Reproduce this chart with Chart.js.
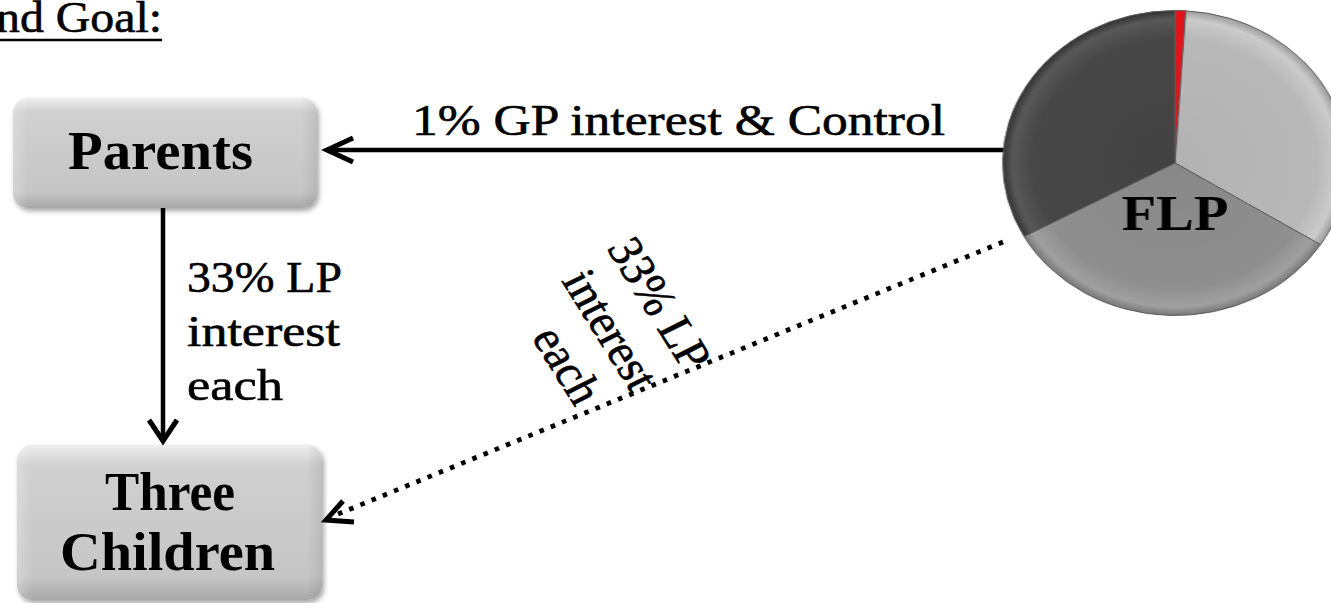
<!DOCTYPE html>
<html>
<head>
<meta charset="utf-8">
<script src="https://cdn.jsdelivr.net/npm/chart.js@4.4.1/dist/chart.umd.min.js"></script>
<style>
    html, body { margin: 0; padding: 0; background: #fff; overflow: hidden; }
    #stage { position: relative; width: 1331px; height: 603px; overflow: hidden; }
    #diagram { position: absolute; left: 0; top: 0; }
    #flpChart { position: absolute; left: 1005px; top: -7px; transform: scaleX(1.13); transform-origin: 50% 50%; }
    text { font-family: "Liberation Serif", "Times New Roman", serif; fill: #000; }
    text.reg { stroke: #000; stroke-width: 0.6; }
</style>
</head>
<body>
<div id="stage">
    <svg id="diagram" width="1331" height="603" viewBox="0 0 1331 603">
        <defs>
            <linearGradient id="boxFill" x1="0" y1="0" x2="0" y2="1">
                <stop offset="0" stop-color="#eeeeee"/>
                <stop offset="0.13" stop-color="#d0d0d0"/>
                <stop offset="0.85" stop-color="#c6c6c6"/>
                <stop offset="1" stop-color="#a8a8a8"/>
            </linearGradient>
            <linearGradient id="boxSide" x1="0" y1="0" x2="1" y2="0">
                <stop offset="0" stop-color="#fff" stop-opacity="0.25"/>
                <stop offset="0.05" stop-color="#fff" stop-opacity="0"/>
                <stop offset="0.95" stop-color="#000" stop-opacity="0"/>
                <stop offset="1" stop-color="#000" stop-opacity="0.08"/>
            </linearGradient>
            <filter id="shadow" x="-10%" y="-10%" width="120%" height="130%">
                <feDropShadow dx="2" dy="3" stdDeviation="2.5" flood-color="#000" flood-opacity="0.35"/>
            </filter>
        </defs>

        <!-- naglowek, uciety przy lewej krawedzi -->
        <text class="reg" x="162" y="32" font-size="44" text-anchor="end" textLength="166" lengthAdjust="spacingAndGlyphs">nd Goal:</text>
        <line x1="0" y1="40" x2="162" y2="40" stroke="#000" stroke-width="2.5"/>

        <!-- prostokaty -->
        <g filter="url(#shadow)">
            <rect x="13" y="98" width="304" height="110" rx="15" fill="url(#boxFill)"/>
            <rect x="17" y="445" width="305" height="155" rx="15" fill="url(#boxFill)"/>
        </g>
        <rect x="13" y="98" width="304" height="110" rx="15" fill="url(#boxSide)"/>
        <rect x="17" y="445" width="305" height="155" rx="15" fill="url(#boxSide)"/>
        <text x="160.5" y="169" font-size="54" font-weight="bold" text-anchor="middle" textLength="185" lengthAdjust="spacingAndGlyphs">Parents</text>
        <text x="170" y="510" font-size="54" font-weight="bold" text-anchor="middle" textLength="130" lengthAdjust="spacingAndGlyphs">Three</text>
        <text x="167.5" y="570" font-size="54" font-weight="bold" text-anchor="middle" textLength="215" lengthAdjust="spacingAndGlyphs">Children</text>

        <!-- FLP -> Parents -->
        <line x1="1010" y1="150" x2="328" y2="150" stroke="#000" stroke-width="4.5"/>
        <polyline points="353,138 327,150 353,162" fill="none" stroke="#000" stroke-width="5"/>
        <text class="reg" x="412" y="135" font-size="44" textLength="533" lengthAdjust="spacingAndGlyphs">1% GP interest &amp; Control</text>

        <!-- Parents -> Children -->
        <line x1="163" y1="208" x2="163" y2="438" stroke="#000" stroke-width="4.5"/>
        <polyline points="149,420 163,441 177,420" fill="none" stroke="#000" stroke-width="5"/>
        <text class="reg" x="187" y="292" font-size="44" textLength="155" lengthAdjust="spacingAndGlyphs">33% LP</text>
        <text class="reg" x="187" y="346" font-size="44" textLength="153" lengthAdjust="spacingAndGlyphs">interest</text>
        <text class="reg" x="187" y="400" font-size="44" textLength="96" lengthAdjust="spacingAndGlyphs">each</text>

        <!-- FLP -> Children (kropkowana) -->
        <line x1="1003" y1="242" x2="338" y2="514" stroke="#000" stroke-width="4.8" stroke-dasharray="4.6 7.5"/>
        <polyline points="343,501 326,520 354,522" fill="none" stroke="#000" stroke-width="5"/>
        <g transform="translate(610 328) scale(1.12 1) rotate(60.8)">
            <text class="reg" x="0" y="-36" font-size="44" text-anchor="middle">33% LP</text>
            <text class="reg" x="2" y="15" font-size="44" text-anchor="middle">interest</text>
            <text class="reg" x="14" y="66" font-size="44" text-anchor="middle">each</text>
        </g>
    </svg>
    <canvas id="flpChart" width="340" height="340"></canvas>
</div>

<script>
    // Udzialy w FLP: 1% GP, reszta LP
    var sliceLabels = ['GP', 'LP 1', 'LP 2', 'LP 3'];
    var sliceValues = [1, 33, 33, 33];
    var sliceColors = ['#e3121a', '#b9b9b9', '#8f8f8f', '#474747'];

    // Gradient dla kazdego wycinka (jasniejszy brzeg)
    var shade = {
        '#b9b9b9': ['#b2b2b2', '#b9b9b9', '#cbcbcb', '#999999'],
        '#8f8f8f': ['#888888', '#8f8f8f', '#a0a0a0', '#757575'],
        '#474747': ['#424242', '#474747', '#585858', '#303030']
    };

    function sliceFill(context) {
        var base = sliceColors[context.dataIndex];
        var chart = context.chart;
        var area = chart.chartArea;
        if (!area || !shade[base]) {
            return base;
        }
        var cx = (area.left + area.right) / 2;
        var cy = (area.top + area.bottom) / 2;
        var r = Math.min(area.width, area.height) / 2;
        var g = chart.ctx.createRadialGradient(cx, cy, 0, cx, cy, r);
        g.addColorStop(0, shade[base][0]);
        g.addColorStop(0.82, shade[base][1]);
        g.addColorStop(0.94, shade[base][2]);
        g.addColorStop(1, shade[base][3]);
        return g;
    }

    // Napis FLP na wykresie
    var flpLabel = {
        id: 'flpLabel',
        afterDraw: function (chart) {
            var area = chart.chartArea;
            var ctx = chart.ctx;
            var cx = (area.left + area.right) / 2;
            var cy = (area.top + area.bottom) / 2;
            ctx.save();
            ctx.font = 'bold 50px "Liberation Serif", "Times New Roman", serif';
            ctx.fillStyle = '#000';
            ctx.textAlign = 'center';
            ctx.textBaseline = 'alphabetic';
            ctx.fillText('FLP', cx, cy + 67);
            ctx.restore();
        }
    };

    var ctx = document.getElementById('flpChart').getContext('2d');
    var flpChart = new Chart(ctx, {
        type: 'pie',
        data: {
            labels: sliceLabels,
            datasets: [{
                data: sliceValues,
                backgroundColor: sliceFill,
                borderColor: '#5c5c5c',
                borderWidth: 1
            }]
        },
        options: {
            responsive: false,
            animation: false,
            layout: { padding: 17 },
            plugins: {
                legend: { display: false },
                tooltip: { enabled: false }
            }
        },
        plugins: [flpLabel]
    });
</script>
</body>
</html>
